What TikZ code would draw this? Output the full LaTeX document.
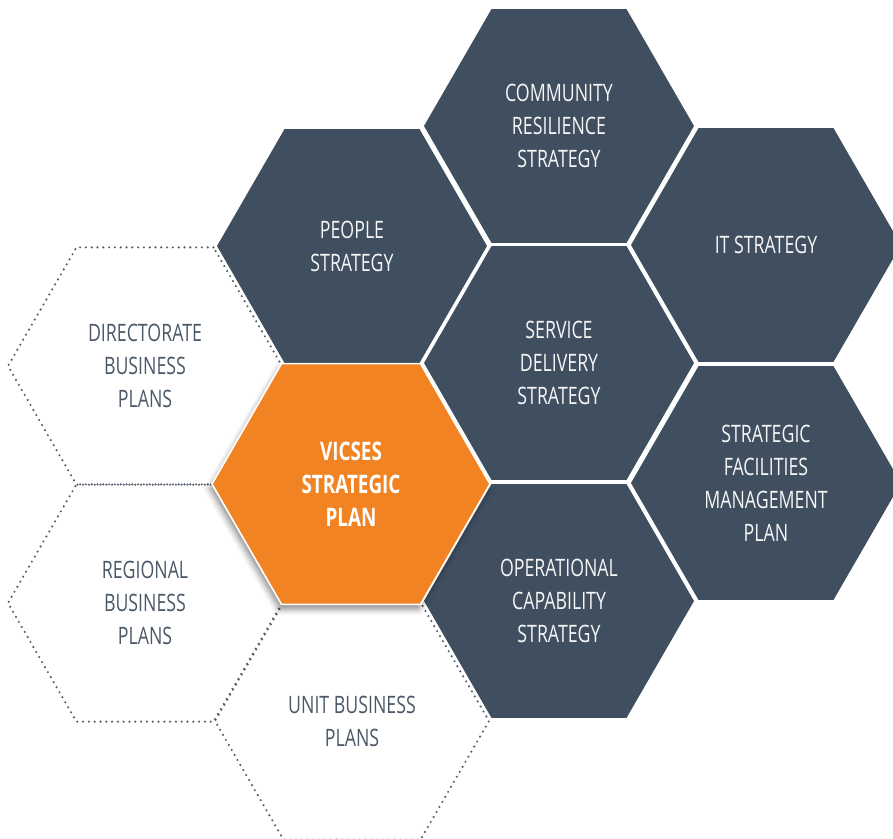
\documentclass[tikz,border=0pt]{standalone}
\usepackage{fontspec}
\setmainfont[FakeStretch=0.74]{Open Sans}
\usetikzlibrary{shapes.geometric,shadows.blur}
\definecolor{slate}{HTML}{404F60}
\definecolor{plantext}{HTML}{4B5868}
\definecolor{dotgray}{HTML}{56606C}
\definecolor{vicorange}{HTML}{F28322}
\tikzset{
  hexbase/.style={regular polygon, regular polygon sides=6, inner sep=0pt, outer sep=0pt,
    align=center, font=\fontsize{24}{33}\selectfont},
  darkhex/.style={hexbase, minimum size=270pt, fill=slate, text=white!95!slate},
  planhex/.style={hexbase, minimum size=274pt, draw=dotgray, line width=2.4pt,
    dash pattern=on 0pt off 5.8pt, line cap=round, text=plantext},
  corehex/.style={hexbase, minimum size=278pt, fill=vicorange, draw=white, line width=1.6pt,
    text=white, font=\fontsize{25.5}{33}\selectfont\bfseries,
    blur shadow={shadow xshift=-2pt, shadow yshift=-5pt, shadow blur radius=6pt,
      shadow opacity=45}},
}
\begin{document}
\begin{tikzpicture}[x=1pt,y=-1pt]
  \useasboundingbox (0,0) rectangle (893,838);
  \clip (0,0) rectangle (893,838);
  % dotted outlines of the business plans
  \node[planhex] (direct)   at (145,366) {DIRECTORATE\\BUSINESS\\PLANS};
  \node[planhex] (regional) at (145,603) {REGIONAL\\BUSINESS\\PLANS};
  \node[planhex] (unit)     at (352,721) {UNIT BUSINESS\\PLANS};
  % strategy tiles
  \node[darkhex] (comm)    at (559,126) {COMMUNITY\\RESILIENCE\\STRATEGY};
  \node[darkhex] (people)  at (352,246) {PEOPLE\\STRATEGY};
  \node[darkhex] (it)      at (766,245) {IT STRATEGY};
  \node[darkhex] (service) at (559,363) {SERVICE\\DELIVERY\\STRATEGY};
  \node[darkhex] (facil)   at (766,483) {STRATEGIC\\FACILITIES\\MANAGEMENT\\PLAN};
  \node[darkhex] (oper)    at (559,601) {OPERATIONAL\\CAPABILITY\\STRATEGY};
  % central plan
  \node[corehex] (vicses)  at (351,484) {VICSES\\STRATEGIC\\PLAN};
\end{tikzpicture}
\end{document}
